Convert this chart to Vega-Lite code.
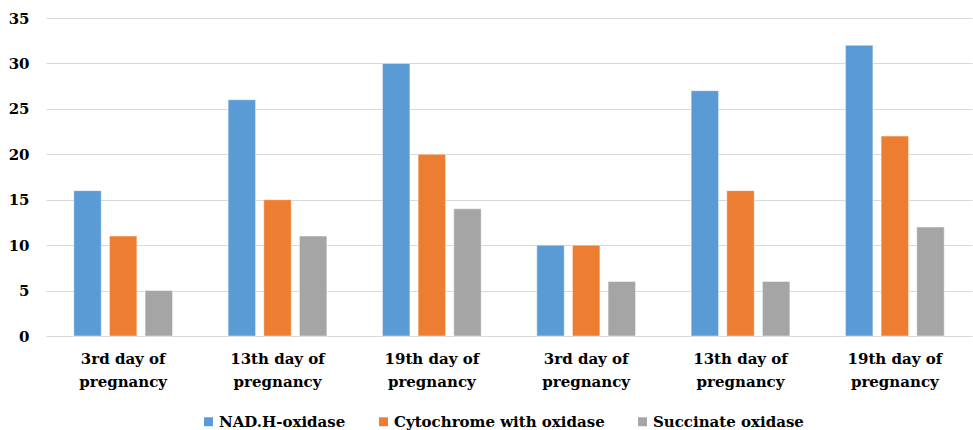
{
  "$schema": "https://vega.github.io/schema/vega-lite/v6.json",
  "width": 926,
  "height": 318,
  "autosize": {"type": "none"},
  "padding": {"left": 46, "top": 18, "right": 1, "bottom": 94},
  "background": "white",
  "config": {
    "font": "DejaVu Serif",
    "view": {"stroke": null},
    "axis": {"labelFont": "DejaVu Serif", "labelFontWeight": "bold", "labelColor": "#000000", "labelFontSize": 15}
  },
  "data": {
    "values": [
      {"group": "1-3rd", "enzyme": "NAD.H-oxidase", "value": 16},
      {"group": "1-3rd", "enzyme": "Cytochrome with oxidase", "value": 11},
      {"group": "1-3rd", "enzyme": "Succinate oxidase", "value": 5},
      {"group": "1-13th", "enzyme": "NAD.H-oxidase", "value": 26},
      {"group": "1-13th", "enzyme": "Cytochrome with oxidase", "value": 15},
      {"group": "1-13th", "enzyme": "Succinate oxidase", "value": 11},
      {"group": "1-19th", "enzyme": "NAD.H-oxidase", "value": 30},
      {"group": "1-19th", "enzyme": "Cytochrome with oxidase", "value": 20},
      {"group": "1-19th", "enzyme": "Succinate oxidase", "value": 14},
      {"group": "2-3rd", "enzyme": "NAD.H-oxidase", "value": 10},
      {"group": "2-3rd", "enzyme": "Cytochrome with oxidase", "value": 10},
      {"group": "2-3rd", "enzyme": "Succinate oxidase", "value": 6},
      {"group": "2-13th", "enzyme": "NAD.H-oxidase", "value": 27},
      {"group": "2-13th", "enzyme": "Cytochrome with oxidase", "value": 16},
      {"group": "2-13th", "enzyme": "Succinate oxidase", "value": 6},
      {"group": "2-19th", "enzyme": "NAD.H-oxidase", "value": 32},
      {"group": "2-19th", "enzyme": "Cytochrome with oxidase", "value": 22},
      {"group": "2-19th", "enzyme": "Succinate oxidase", "value": 12}
    ]
  },
  "mark": {"type": "bar", "stroke": "white", "strokeOpacity": 0.45, "strokeWidth": 1},
  "encoding": {
    "x": {
      "field": "group",
      "type": "nominal",
      "sort": null,
      "scale": {"paddingInner": 0, "paddingOuter": 0},
      "axis": {
        "title": null,
        "labelAngle": 0,
        "domain": false,
        "ticks": false,
        "labelPadding": 15,
        "labelLineHeight": 23,
        "labelExpr": "[split(datum.value, '-')[1] + ' day of', 'pregnancy']"
      }
    },
    "xOffset": {
      "field": "enzyme",
      "type": "nominal",
      "sort": ["NAD.H-oxidase", "Cytochrome with oxidase", "Succinate oxidase"],
      "scale": {"paddingInner": 0.23, "paddingOuter": 0.78}
    },
    "y": {
      "field": "value",
      "type": "quantitative",
      "scale": {"domain": [0, 35]},
      "axis": {
        "title": null,
        "values": [0, 5, 10, 15, 20, 25, 30, 35],
        "domain": false,
        "ticks": false,
        "labelPadding": 17,
        "gridColor": "#d9d9d9",
        "gridWidth": 1
      }
    },
    "color": {
      "field": "enzyme",
      "type": "nominal",
      "sort": ["NAD.H-oxidase", "Cytochrome with oxidase", "Succinate oxidase"],
      "scale": {
        "domain": ["NAD.H-oxidase", "Cytochrome with oxidase", "Succinate oxidase"],
        "range": ["#5B9BD5", "#ED7D31", "#A5A5A5"]
      },
      "legend": {
        "title": null,
        "orient": "none",
        "direction": "horizontal",
        "legendX": 155,
        "legendY": 396,
        "symbolType": "square",
        "symbolSize": 80,
        "symbolStrokeWidth": 0,
        "labelFont": "DejaVu Serif",
        "labelFontWeight": "bold",
        "labelFontSize": 15,
        "labelColor": "#000000",
        "labelLimit": 0,
        "columnPadding": 30,
        "labelOffset": 3
      }
    }
  }
}
